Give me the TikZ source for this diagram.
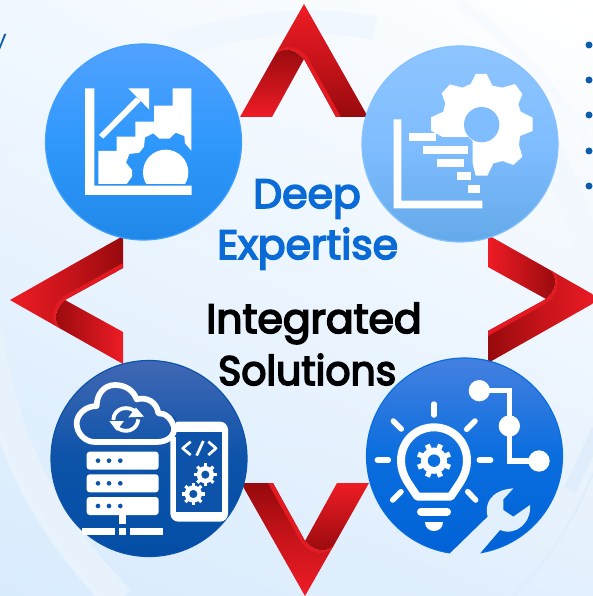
\documentclass[tikz,border=0pt]{standalone}
\usepackage{fontspec}
\setmainfont{Poppins}
\newfontfamily\ttlfont{Poppins}[FakeBold=4]
\usetikzlibrary{shadings}
\definecolor{redA}{HTML}{EE1C25}
\definecolor{redM}{HTML}{C8141A}
\definecolor{redD}{HTML}{960A0D}
\definecolor{redS}{HTML}{E31A22}
\definecolor{bgcut}{HTML}{E2F0FD}
\definecolor{ringA}{HTML}{EAF4FE}
\definecolor{ringB}{HTML}{D3E7FB}
\definecolor{ringC}{HTML}{F7FBFF}
\definecolor{holeB}{HTML}{7FBDFF}
\definecolor{deepB}{HTML}{0C53A9}
\definecolor{midB}{HTML}{0A6EDF}
\definecolor{titleB}{HTML}{0A6AD6}
\definecolor{bulB}{HTML}{0B5CAB}
\definecolor{cOneT}{HTML}{52A2FF}
\definecolor{cOneM}{HTML}{2F98FC}
\definecolor{cOneB}{HTML}{1F88E8}
\definecolor{cOneE}{HTML}{41A0FF}
\definecolor{cTwoT}{HTML}{8EC5FF}
\definecolor{cTwoB}{HTML}{64A9E9}
\definecolor{cTwoE}{HTML}{86C1FF}
\definecolor{cThrT}{HTML}{4168B4}
\definecolor{cThrB}{HTML}{044EA6}
\definecolor{cFouT}{HTML}{4580E0}
\definecolor{cFouB}{HTML}{0062D6}
\definecolor{bgTR}{HTML}{FFFFFF}
\definecolor{bgTL}{HTML}{F1F8FF}
\definecolor{bgBR}{HTML}{E3F0FD}
\definecolor{bgBL}{HTML}{D8EBFD}
\tikzset{
  titletext/.style={anchor=base west,inner sep=0pt,font=\ttlfont\fontsize{41}{41}\selectfont},
  iconstroke/.style={draw=white,line cap=round,line join=round},
}
\newcommand{\redchev}[3]{%
  \begin{scope}[shift={(#1,#2)},rotate=#3]
    \shade[top color=redA,bottom color=redD,middle color=redM,shading angle=#3]
      (0,0) -- (64,113) -- (32,113) -- (0,55) .. controls (-8,44) and (-20,42) .. (-29,51) -- cycle;
    \shade[top color=redD,bottom color=redA,shading angle=#3]
      (-64,113) -- (-32,113) -- (0,55) .. controls (-8,45) and (-21,42) .. (-29,51) -- cycle;
    \fill[redS] (32,113) -- (37,113) -- (4,54) .. controls (-5,42) and (-18,40) .. (-26.6,47)
      -- (-29,51) .. controls (-21,42) and (-8,45) .. (0,55) -- cycle;
  \end{scope}}
\newcommand{\igear}[6]{%
  \begin{scope}[shift={(#1,#2)}]
    \fill[white] (0,0) circle[radius=#3*0.76];
    \foreach \a in {0,45,...,315}
      \draw[white,line width=#4pt] (\a+#6:#3*0.5) -- (\a+#6:#3);
    \fill[#5] (0,0) circle[radius=#3*0.36];
  \end{scope}}
\begin{document}
\begin{tikzpicture}[x=1pt,y=-1pt]
\useasboundingbox (0,0) rectangle (593,596);
\begin{scope}
\clip (0,0) rectangle (593,596);
% background
\shade[upper right=bgTR,upper left=bgTL,lower right=bgBR,lower left=bgBL] (0,0) rectangle (593,596);
% faint rings
\draw[ringA!70!white,line width=24pt] (170,47) .. controls (240,25) and (300,15) .. (375,28);
\draw[ringC,line width=10pt] (458,2) .. controls (510,40) and (560,90) .. (593,150);
\draw[ringA!60!white,line width=26pt] (530,120) .. controls (565,170) and (585,230) .. (600,290);
\draw[ringB!35!bgBL!60!white,line width=30pt] (-12,330) .. controls (0,430) and (40,520) .. (120,600);
\draw[ringB!50!white,line width=5pt] (-5,420) .. controls (20,490) and (50,540) .. (100,596);
\draw[ringB!70!white,line width=13pt] (598,430) -- (570,490);
\draw[ringB!70!white,line width=2.5pt] (593,473) .. controls (570,530) and (540,570) .. (513,596);
\draw[ringA,line width=9pt] (5,145) -- (-2,190);
\node[anchor=base east,inner sep=0pt,text=bulB,font=\fontsize{24}{24}\selectfont] (yfrag) at (7,48) {y};
\foreach \yy in {45,80,115,151,186}
  \fill[bulB] (589,\yy) circle[radius=3.5];
\end{scope}

% chevrons
\redchev{304}{4}{0}
\redchev{10}{300}{90}
\redchev{305}{596}{180}
\begin{scope}
\clip (0,0) rectangle (593,596);
\redchev{601}{299}{-90}
\end{scope}

% circles
\shade[top color=cOneT,bottom color=cOneB,middle color=cOneM,draw=cOneE,line width=1.2pt] (143.5,142) circle[radius=98];
\shade[top color=cTwoT,bottom color=cTwoB,middle color=holeB,draw=cTwoE,line width=1.2pt] (460,144) circle[radius=98];
\shade[top color=cThrT,bottom color=cThrB,middle color=deepB,draw=deepB,line width=1.2pt] (149,458.5) circle[radius=98];
\shade[top color=cFouT,bottom color=cFouB,middle color=midB,draw=midB,line width=1.2pt] (464.5,456) circle[radius=98];

% icon 1
\begin{scope}[shift={(30,0)},scale=1/3]
  \fill[white] (165,265) -- (193,265) -- (193,557) -- (485,557) -- (485,585) -- (165,585) -- cycle;
  \fill[white] (205,453) -- (260,453) -- (260,410) -- (316,410) -- (316,365) -- (372,365) -- (372,317)
    -- (428,317) -- (428,265) -- (484,265) -- (484,452) -- (465,430) -- (463,408) -- (437,398)
    -- (418,416) -- (388,416) -- (370,400) -- (345,412) -- (342,440) -- (328,458) -- (298,462)
    -- (288,488) -- (306,510) -- (306,530) -- (290,552) -- (205,552) -- cycle;
  \begin{scope}
    \clip (330,440) rectangle (485,552);
    \fill[white] (407,517) circle[radius=68];
  \end{scope}
  \fill[white] (207,405) -- (318,292) -- (333,303) -- (220,416) -- cycle;
  \fill[white] (295,265) -- (357,265) -- (357,328) -- cycle;
\end{scope}

% icon 2
\begin{scope}[shift={(300,0)},scale=1/3]
  \fill[white] (281,358) -- (304,358) -- (304,602) -- (547,602) -- (547,625) -- (281,625) -- cycle;
  \fill[white] (327,399) rectangle (408,423);
  \fill[white] (369,438) rectangle (504,462);
  \fill[white] (411,477) rectangle (492,501);
  \fill[white] (471,516) rectangle (513,540);
  \fill[white] (504,555) rectangle (540,579);
  \fill[white] (527,222) -- (560,222) -- (577,257) -- (607,263) -- (645,252) -- (667,282) -- (655,313)
    -- (662,335) -- (698,353) -- (698,393) -- (660,408) -- (657,435) -- (667,470) -- (640,495)
    -- (608,483) -- (580,490) -- (562,527) -- (527,527) -- (518,490) -- (518,423) -- (505,411)
    -- (428,411) -- (393,392) -- (393,352) -- (430,335) -- (436,310) -- (425,280) -- (450,253)
    -- (487,263) -- (512,252) -- cycle;
  \fill[holeB] (545,374) circle[radius=53];
\end{scope}

% icon 3
\begin{scope}[shift={(0,340)},scale=1/3]
  \fill[white] (511,245) [rounded corners=8pt] -- (684,245) -- (684,545) -- (511,545) -- cycle;
  \fill[deepB] (528,275) rectangle (667,516);
  \fill[deepB] (511,230) rectangle (528,290);
  \draw[white,line width=5.7pt,line join=round] (285,306) -- (470,306)
    .. controls (505,306) and (525,285) .. (522,262)
    .. controls (515,235) and (495,218) .. (475,220)
    .. controls (470,185) and (440,170) .. (410,178)
    .. controls (400,150) and (375,135) .. (345,135)
    .. controls (310,135) and (290,165) .. (290,198)
    .. controls (255,198) and (230,225) .. (230,250)
    .. controls (230,280) and (255,306) .. (285,306) -- cycle;
  % sync arrows
  \draw[white,line width=3.8pt] (340,240) .. controls (340,205) and (385,192) .. (410,218);
  \draw[white,line width=3.8pt] (415,238) .. controls (412,272) and (372,285) .. (345,258);
  \fill[white] (385,232) -- (432,230) -- (408,203) -- cycle;
  \fill[white] (328,243) -- (372,243) -- (350,272) -- cycle;
  % servers
  \foreach \ty in {335,403,471} {
    \fill[white,rounded corners=3pt] (260,\ty) rectangle (476,\ty+54);
    \foreach \dx in {294,327,361}
      \fill[deepB] (\dx,\ty+27) circle[radius=7];
  }
  \fill[white] (357,525) rectangle (378,551);
  \fill[white] (246,563) rectangle (345,585);
  \fill[white] (357,563) rectangle (378,585);
  \fill[white] (390,563) rectangle (489,585);
  % code glyph
  \draw[iconstroke,line width=2.7pt,line cap=butt] (572,305) -- (548,325) -- (572,345);
  \draw[iconstroke,line width=2.7pt,line cap=butt] (590,347) -- (610,303);
  \draw[iconstroke,line width=2.7pt,line cap=butt] (625,305) -- (648,325) -- (625,345);
  \igear{616}{404}{34}{3.2}{deepB}{0}
  \igear{580}{462}{34}{3.2}{deepB}{0}
\end{scope}

% icon 4
\begin{scope}[shift={(300,340)},scale=1/3]
  \draw[iconstroke,line width=5.5pt] (402,192) -- (402,225);
  \draw[iconstroke,line width=5.5pt] (232,360) -- (265,360);
  \draw[iconstroke,line width=5.5pt] (538,360) -- (572,360);
  \draw[iconstroke,line width=5.5pt] (280,243) -- (304,267);
  \draw[iconstroke,line width=5.5pt] (525,243) -- (500,268);
  \draw[iconstroke,line width=5.5pt] (278,480) -- (303,455);
  \draw[iconstroke,line width=5.5pt] (527,480) -- (503,455);
  \draw[iconstroke,line width=8pt] (352,470) -- (322,425) .. controls (310,405) and (303,385) .. (303,362)
    .. controls (303,305) and (347,262) .. (402,262)
    .. controls (457,262) and (501,305) .. (501,362)
    .. controls (501,385) and (494,405) .. (482,425) -- (452,470) -- cycle;
  \draw[iconstroke,line width=8pt] (363,515) -- (441,515);
  \fill[white] (374,546) -- (430,546) .. controls (430,582) and (374,582) .. (374,546) -- cycle;
  \igear{402}{362}{52}{5.2}{midB}{22.5}
  \draw[white,line width=5.3pt] (538,152) -- (628,152) -- (628,363) -- (717,363);
  \fill[white] (538,152) circle[radius=32];
  \fill[white] (628,258) circle[radius=32];
  \fill[white] (717,363) circle[radius=32];
  % wrench
  \fill[bgcut] (450,640) -- (563,530) .. controls (552,495) and (570,450) .. (640,445)
    -- (610,478) -- (610,510) -- (640,530) -- (690,495) .. controls (695,545) and (650,590) .. (600,570)
    -- (540,640) -- (530,655) -- (440,655) -- cycle;
\end{scope}

% titles
\node[titletext,text=titleB] (deep) at (253,208) {Deep};
\node[titletext,text=titleB] (expertise) at (217,259) {Expertise};
\node[titletext,text=black] (integrated) at (206,333) {Integrated};
\node[titletext,text=black,xscale=0.96,transform shape] (solutions) at (218,385) {Solutions};
\end{tikzpicture}
\end{document}
